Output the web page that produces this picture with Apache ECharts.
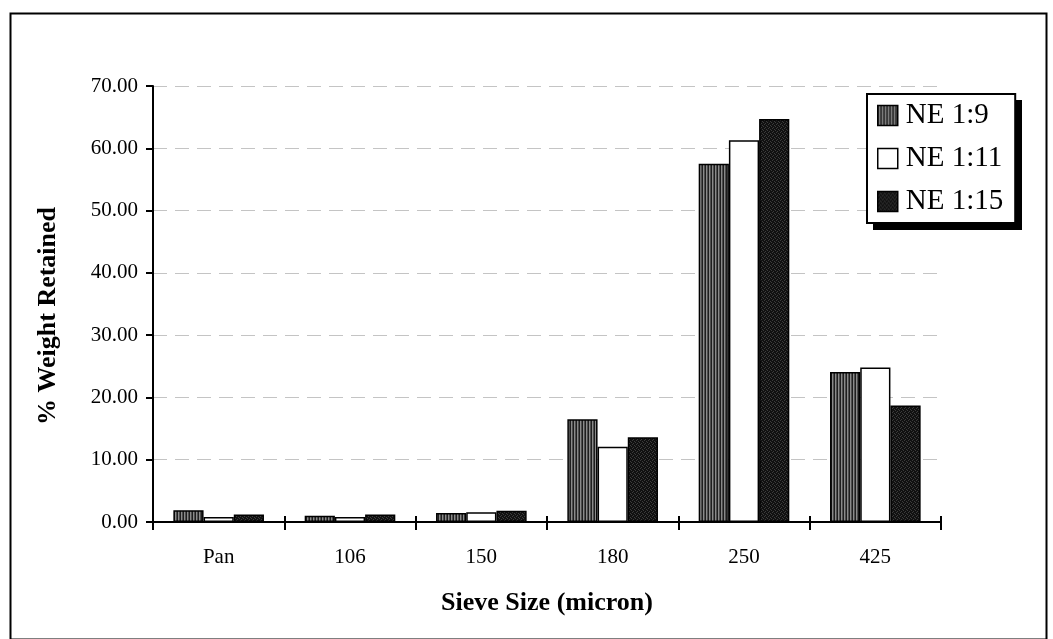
<!DOCTYPE html>
<html>
<head>
<meta charset="utf-8">
<script src="https://cdn.jsdelivr.net/npm/echarts@6/dist/echarts.min.js"></script>
<style>
html,body{margin:0;padding:0;background:#fff;}
#chart{width:1053px;height:639px;}
</style>
</head>
<body>
<div id="chart"></div>
<script>
// ---- data ----
const categories = ['Pan', '106', '150', '180', '250', '425'];
const seriesNames = ['NE 1:9', 'NE 1:11', 'NE 1:15'];
const ne9  = [1.9, 1.0, 1.45, 16.5, 57.5, 24.1];
const ne11 = [0.8, 0.8, 1.55, 12.1, 61.3, 24.8];
const ne15 = [1.2, 1.2, 1.8, 13.6, 64.7, 18.7];
const yTicks = [0, 10, 20, 30, 40, 50, 60, 70];

// ---- fill patterns ----
function stripePattern() {
  const c = document.createElement('canvas');
  c.width = 3; c.height = 1;
  const g = c.getContext('2d');
  const cols = ['#1e1e1e', '#8a8a8a', '#4e4e4e'];
  cols.forEach((col, i) => { g.fillStyle = col; g.fillRect(i, 0, 1, 1); });
  return c;
}
function stipplePattern() {
  const c = document.createElement('canvas');
  c.width = 4; c.height = 4;
  const g = c.getContext('2d');
  g.fillStyle = '#111111'; g.fillRect(0, 0, 4, 4);
  g.fillStyle = '#3c3c3c';
  [[0,0],[2,1],[1,3],[3,2]].forEach(p => g.fillRect(p[0], p[1], 1, 1));
  return c;
}
const fills = [
  { image: stripePattern(), repeat: 'repeat' },
  '#ffffff',
  { image: stipplePattern(), repeat: 'repeat' }
];

const FONT = '"Liberation Serif", "Times New Roman", serif';
const chart = echarts.init(document.getElementById('chart'), null, { renderer: 'canvas' });

const dataSets = [ne9, ne11, ne15];
const series = seriesNames.map((name, i) => ({
  name: name,
  type: 'bar',
  xAxisIndex: 0,
  data: dataSets[i],
  barGap: '0%',
  barCategoryGap: '31%',
  itemStyle: { color: fills[i], borderColor: '#000', borderWidth: 1.5 },
  emphasis: { disabled: true },
  animation: false
}));

chart.setOption({
  backgroundColor: '#ffffff',
  animation: false,
  grid: { left: 153, right: 112, top: 86, bottom: 117, containLabel: false },
  legend: {
    orient: 'vertical',
    left: 867,
    top: 94,
    data: seriesNames,
    itemWidth: 20,
    itemHeight: 20,
    itemGap: 14,
    padding: [7, 12, 7, 10],
    backgroundColor: '#ffffff',
    borderColor: '#000',
    borderWidth: 2,
    icon: 'rect',
    itemStyle: { borderColor: '#000', borderWidth: 1.5 },
    textStyle: { fontFamily: FONT, fontSize: 29, color: '#000', padding: [0, 0, 0, 3] },
    selectedMode: false,
    z: 10
  },
  xAxis: [{
    type: 'category',
    data: categories,
    boundaryGap: true,
    axisLine: { lineStyle: { color: '#000', width: 2 } },
    axisTick: { show: true, inside: false, length: 8, alignWithLabel: false, lineStyle: { color: '#000', width: 2 } },
    axisLabel: { fontFamily: FONT, fontSize: 21, color: '#000', margin: 25 },
    name: 'Sieve Size (micron)',
    nameLocation: 'middle',
    nameGap: 68,
    nameTextStyle: { fontFamily: FONT, fontSize: 26, fontWeight: 'bold', color: '#000' }
  }, {
    type: 'category',
    data: categories,
    position: 'bottom',
    boundaryGap: true,
    axisLine: { show: false },
    axisTick: { show: true, inside: true, length: 6, lineStyle: { color: '#000', width: 2 } },
    axisLabel: { show: false }
  }],
  yAxis: {
    type: 'value',
    min: yTicks[0],
    max: yTicks[yTicks.length - 1],
    interval: 10,
    axisLine: { show: true, lineStyle: { color: '#000', width: 2 } },
    axisTick: { show: true, inside: false, length: 7, lineStyle: { color: '#000', width: 2 } },
    axisLabel: { fontFamily: FONT, fontSize: 21, color: '#000', margin: 15, formatter: v => v.toFixed(2) },
    splitLine: { show: true, lineStyle: { color: '#c4c4c4', width: 1, type: [14, 8] } }
  },
  graphic: [
    {
      type: 'rect',
      left: 8, top: 11,
      shape: { width: 1036, height: 626 },
      style: { fill: 'none', stroke: '#000', lineWidth: 2 },
      z: 0, silent: true
    },
    {
      type: 'rect',
      left: 873, top: 100,
      shape: { width: 149, height: 130 },
      style: { fill: '#000', stroke: 'none' },
      z: 1, silent: true
    },
    {
      type: 'text',
      x: 48, y: 316,
      rotation: Math.PI / 2,
      style: {
        text: '% Weight Retained',
        font: 'bold 26px ' + FONT,
        fill: '#000',
        align: 'center',
        verticalAlign: 'middle'
      },
      silent: true
    }
  ],
  series: series
});
</script>
</body>
</html>
